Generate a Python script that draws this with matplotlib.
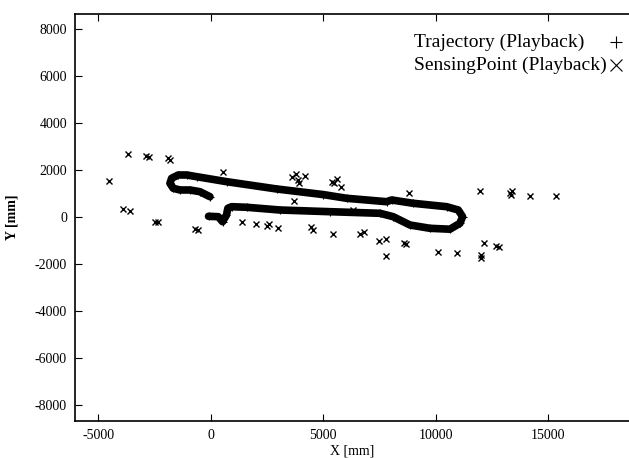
import matplotlib.pyplot as plt

# trajectory waypoints (playback)
traj_x = [-36, -480, -924, -1369, -1667, -1813, -1738, -1444, -1071, -627,
          707, 2929, 5000, 6040, 7817, 8040, 9000, 10484, 11000, 11194,
          11075, 10631, 9742, 8853, 8110, 7520, 5297, 3075, 1595, 929,
          760, 700, 525, 333, -98]
traj_y = [865, 1078, 1151, 1151, 1223, 1437, 1650, 1790, 1790, 1718,
          1505, 1194, 955, 797, 652, 725, 584, 439, 298, 13,
          -269, -520, -482, -341, 13, 158, 226, 298, 414, 439,
          371, 85, -200, 13, 30]

# sensing points (playback)
sense_x = [-4520, -3662, -2898, -2738, -1915, -1827, -3878, -3609, -2489, -2346,
           -688, -570, 525, 1400, 2005, 2485, 2578, 2968, 3680, 3609,
           3787, 3911, 3858, 4182, 4466, 4537, 5391, 5480, 5604, 5804,
           5444, 6319, 6622, 6817, 7480, 7800, 7782, 8582, 8689, 8813,
           10080, 10937, 11950, 12004, 12004, 12150, 12666, 12790, 13306, 13395,
           13350, 14200, 15343]
sense_y = [1548, 2672, 2614, 2543, 2500, 2416, 341, 256, -227, -199,
           -526, -550, 1904, -227, -313, -370, -313, -455, 696, 1691,
           1820, 1435, 1577, 1761, -441, -554, 1506, 1463, 1620, 1265,
           -711, 298, -739, -654, -1023, -952, -1650, -1122, -1165, 1008,
           -1478, -1535, 1094, -1634, -1740, -1094, -1222, -1279, 1023, 1108,
           920, 909, 909]

x_ticks = [-5000, 0, 5000, 10000, 15000]
y_ticks = [-8000, -6000, -4000, -2000, 0, 2000, 4000, 6000, 8000]

plt.rcParams['font.family'] = ['Liberation Serif', 'DejaVu Serif']
plt.rcParams['axes.unicode_minus'] = False

fig = plt.figure(figsize=(6.29, 4.58), dpi=100)
ax = fig.add_axes([0.1197, 0.0814, 1 - 0.1197, 0.9705 - 0.0814])

ax.plot(traj_x, traj_y, color='black', lw=5.5, solid_joinstyle='round',
        solid_capstyle='round', marker='+', ms=6, mew=0.8)
ax.plot(sense_x, sense_y, ls='none', marker='x', color='black', ms=5, mew=1)

ax.set_xlim(-6020, 18590)
ax.set_ylim(-8680, 8670)
ax.set_xticks(x_ticks)
ax.set_yticks(y_ticks)
ax.tick_params(direction='in', length=5, width=0.8, labelsize=10, pad=6,
               top=True, right=False)
ax.spines['right'].set_visible(False)
for s in ['left', 'bottom', 'top']:
    ax.spines[s].set_linewidth(1.2)

ax.set_xlabel('X [mm]', fontsize=10, labelpad=2)
ax.set_ylabel('Y [mm]', fontsize=10, fontweight='bold', labelpad=12)

# gnuplot-style key: text on the left, sample on the right
ax.text(0.6117, 0.928, 'Trajectory (Playback)', transform=ax.transAxes,
        fontsize=14, va='center', ha='left')
ax.text(0.6117, 0.872, 'SensingPoint (Playback)', transform=ax.transAxes,
        fontsize=14, va='center', ha='left')
ax.plot([0.9765], [0.930], transform=ax.transAxes, marker='+', color='black',
        ms=8, mew=0.8, clip_on=False)
ax.plot([0.9765], [0.873], transform=ax.transAxes, marker='x', color='black',
        ms=8, mew=0.8, clip_on=False)

fig.savefig('out.png', dpi=100)
